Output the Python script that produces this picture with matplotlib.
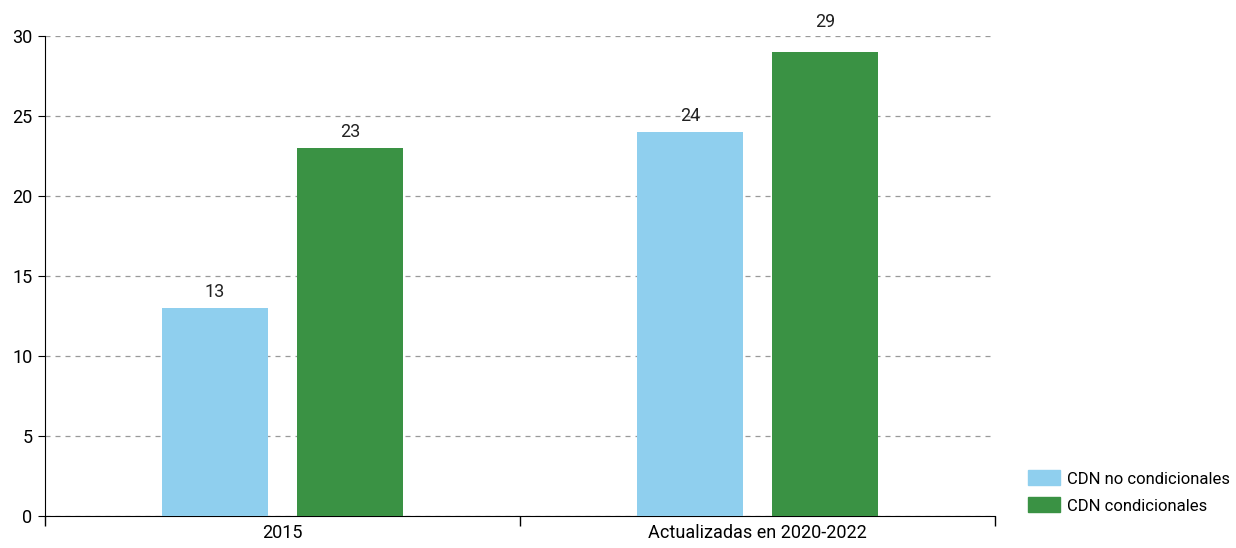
import numpy as np
import matplotlib.pyplot as plt
from matplotlib.patches import Patch

plt.rcParams['font.family'] = ['Liberation Sans Narrow', 'Roboto', 'DejaVu Sans']

categories = ['2015', 'Actualizadas en 2020-2022']
no_cond = [13, 24]
cond = [23, 29]
series_names = ['CDN no condicionales', 'CDN condicionales']
colors = ['#8fcfee', '#3a9244']

fig = plt.figure(figsize=(12.36, 5.48), dpi=100)
ax = fig.add_axes([45/1236, 32/548, 950/1236, 480/548])

x = np.arange(len(categories))
w = 0.222
off = 0.142
b1 = ax.bar(x - off, no_cond, w, color=colors[0], zorder=3)
b2 = ax.bar(x + off, cond, w, color=colors[1], zorder=3)

for bars in (b1, b2):
    for r in bars:
        h = r.get_height()
        ty = h + 0.45
        # keep the label clear of the top gridline
        if ty > 29 and h < 30:
            ty = 30.3
        ax.text(r.get_x() + r.get_width()/2, ty, f'{h:.0f}',
                ha='center', va='bottom', fontsize=13, color='#222222')

ax.set_xlim(-0.5, 1.5)
ax.set_ylim(0, 30)
ax.set_yticks(range(0, 31, 5))
ax.set_xticks([-0.5, 0.5, 1.5])
ax.set_xticklabels([])
ax.set_xticks(x, minor=True)
ax.set_xticklabels(categories, minor=True)
ax.tick_params(axis='x', which='minor', length=0, pad=6, labelsize=13)
ax.tick_params(axis='x', which='major', length=7, width=1)
ax.tick_params(axis='y', length=5, labelsize=13, pad=4)

ax.grid(axis='y', linestyle=(0, (4, 4)), color='#999999', linewidth=0.9, zorder=0)
for s in ('top', 'right'):
    ax.spines[s].set_visible(False)

handles = [Patch(color=c) for c in colors]
fig.legend(handles, series_names, loc='lower left', bbox_to_anchor=(1020/1236, 26/548),
           frameon=False, fontsize=12, handlelength=1.9, handleheight=1.0,
           handletextpad=0.4, labelspacing=0.65, borderpad=0)

fig.savefig('out.png', dpi=100)
